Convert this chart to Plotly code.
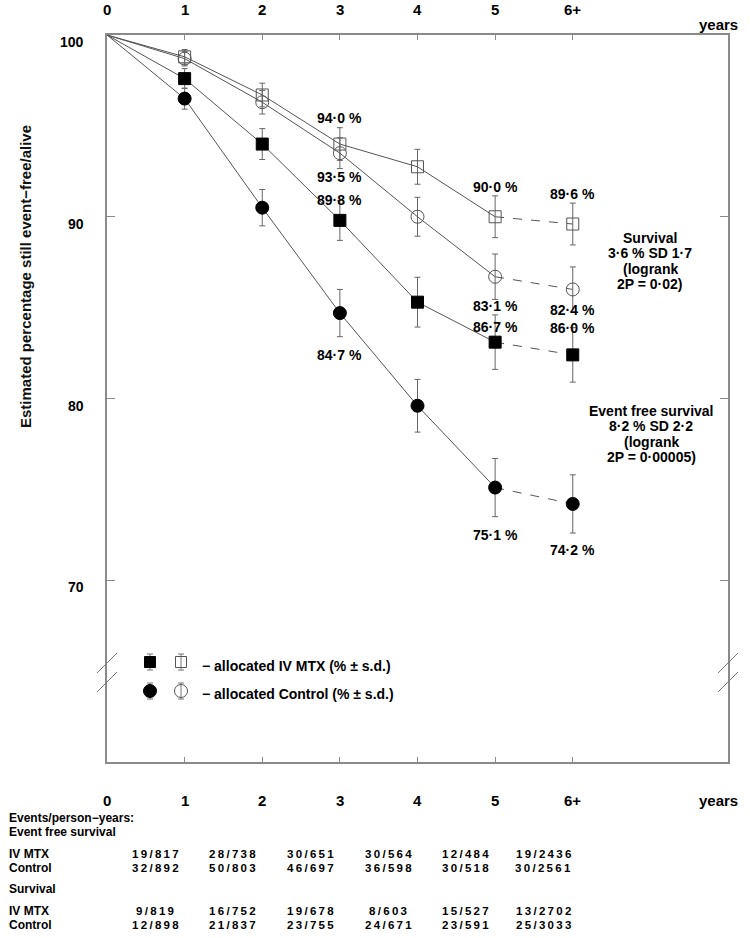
import plotly.graph_objects as go

# ---------------- data ----------------
years = [1, 2, 3, 4, 5, 6]
x_tick_labels = ["0", "1", "2", "3", "4", "5", "6+"]
y_tick_values = [100, 90, 80, 70]

mtx_surv = [98.8, 96.7, 94.0, 92.75, 90.0, 89.6]       # open square
mtx_surv_sd = [0.4, 0.65, 0.9, 0.96, 1.15, 1.15]
ctl_surv = [98.7, 96.3, 93.5, 90.0, 86.7, 86.0]        # open circle
ctl_surv_sd = [0.4, 0.65, 0.85, 1.07, 1.25, 1.24]
mtx_efs = [97.6, 94.0, 89.8, 85.3, 83.1, 82.4]         # filled square
mtx_efs_sd = [0.55, 0.85, 1.1, 1.37, 1.5, 1.5]
ctl_efs = [96.5, 90.5, 84.7, 79.6, 75.1, 74.2]         # filled circle
ctl_efs_sd = [0.58, 1.0, 1.3, 1.45, 1.6, 1.6]

efs_mtx_events = ["19/817", "28/738", "30/651", "30/564", "12/484", "19/2436"]
efs_ctl_events = ["32/892", "50/803", "46/697", "36/598", "30/518", "30/2561"]
surv_mtx_events = ["9/819", "16/752", "19/678", "8/603", "15/527", "13/2702"]
surv_ctl_events = ["12/898", "21/837", "23/755", "24/671", "23/591", "25/3033"]

survival_note = ["Survival", "3·6 % SD 1·7", "(logrank", "2P = 0·02)"]
efs_note = ["Event free survival", "8·2 % SD 2·2", "(logrank", "2P = 0·00005)"]

# ---------------- layout helpers ----------------
W, H = 750, 938
L, R, T, B = 107, 728, 35, 762


def py(p):
    return (B - p) / (B - T)


def px(p):
    return (p - L) / (R - L)


FONT = "Liberation Sans, Arial, sans-serif"
NARROW = "Liberation Sans Narrow, Arial Narrow, Liberation Sans, Arial, sans-serif"
LINE_C = "#555555"
AX_C = "#8a8a8a"

fig = go.Figure()

series = [
    (mtx_surv, mtx_surv_sd, "square-open", 12, "#555555"),
    (ctl_surv, ctl_surv_sd, "circle-open", 13, "#555555"),
    (mtx_efs, mtx_efs_sd, "square", 12, "black"),
    (ctl_efs, ctl_efs_sd, "circle", 13, "black"),
]

for vals, sd, sym, size, col in series:
    fig.add_trace(go.Scatter(x=[0] + years[:5], y=[100] + vals[:5], mode="lines",
                             line=dict(color=LINE_C, width=1), showlegend=False,
                             hoverinfo="skip"))
    fig.add_trace(go.Scatter(x=years[4:], y=vals[4:], mode="lines",
                             line=dict(color=LINE_C, width=1, dash="dash"),
                             showlegend=False, hoverinfo="skip"))
for vals, sd, sym, size, col in series:
    fig.add_trace(go.Scatter(x=years, y=vals, mode="markers",
                             marker=dict(symbol=sym, size=size, color=col,
                                         line=dict(color=col, width=1)),
                             error_y=dict(type="data", array=sd, color="#666666",
                                          thickness=1, width=3),
                             showlegend=False))

# legend glyphs on an overlay axis in plot-fraction units
leg = [
    (px(150), py(662), "square", 11, "black"),
    (px(181), py(662), "square-open", 11, "#555555"),
    (px(150), py(691), "circle", 13, "black"),
    (px(181), py(691), "circle-open", 13, "#555555"),
]
for lx, ly, sym, size, col in leg:
    fig.add_trace(go.Scatter(x=[lx], y=[ly], xaxis="x2", yaxis="y2", mode="markers",
                             marker=dict(symbol=sym, size=size, color=col,
                                         line=dict(color=col, width=1)),
                             error_y=dict(type="constant", value=8 / (B - T),
                                          color="#777777", thickness=1, width=3),
                             showlegend=False, hoverinfo="skip"))

ann = []
bold = dict(family=FONT, size=14, color="black")

# data labels: (values, index, text, yshift)
labels = [
    (mtx_surv, 2, "94·0 %", 26),
    (ctl_surv, 2, "93·5 %", -24),
    (mtx_efs, 2, "89·8 %", 20),
    (ctl_efs, 2, "84·7 %", -42),
    (mtx_surv, 4, "90·0 %", 30),
    (mtx_surv, 5, "89·6 %", 30),
    (mtx_efs, 4, "83·1 %", 36),
    (ctl_surv, 4, "86·7 %", -50),
    (mtx_efs, 5, "82·4 %", 45),
    (ctl_surv, 5, "86·0 %", -39),
    (ctl_efs, 4, "75·1 %", -47),
    (ctl_efs, 5, "74·2 %", -46),
]
for vals, i, txt, ys in labels:
    ann.append(dict(x=years[i], y=vals[i], xref="x", yref="y", text="<b>%s</b>" % txt,
                    showarrow=False, yshift=ys, font=bold,
                    xanchor="center", yanchor="middle"))

for k, line in enumerate(survival_note):
    ann.append(dict(x=px(650), y=py(238 + 15.3 * k), xref="paper", yref="paper",
                    text="<b>%s</b>" % line, showarrow=False, font=bold,
                    xanchor="center", yanchor="middle"))
for k, line in enumerate(efs_note):
    ann.append(dict(x=px(651), y=py(411 + 15.3 * k), xref="paper", yref="paper",
                    text="<b>%s</b>" % line, showarrow=False, font=bold,
                    xanchor="center", yanchor="middle"))

# y tick labels
for v in y_tick_values:
    ann.append(dict(x=0, y=v, xref="paper", yref="y", text="<b>%d</b>" % v,
                    showarrow=False, xanchor="right", yanchor="middle",
                    xshift=-21, yshift=-7, font=bold))

# y title
ann.append(dict(x=px(25), y=py(277), xref="paper", yref="paper",
                text="<b>Estimated percentage still event\u2212free/alive</b>",
                textangle=-90, showarrow=False, xanchor="center", yanchor="middle",
                font=dict(family=FONT, size=15, color="#111111")))

# top & bottom x labels
for i, t in enumerate(x_tick_labels):
    ann.append(dict(x=i, y=py(10), xref="x", yref="paper", text="<b>%s</b>" % t,
                    showarrow=False, xanchor="center", yanchor="middle",
                    font=dict(family=NARROW, size=15, color="black")))
    ann.append(dict(x=i, y=py(800), xref="x", yref="paper", text="<b>%s</b>" % t,
                    showarrow=False, xanchor="center", yanchor="middle",
                    font=dict(family=NARROW, size=15, color="black")))
ann.append(dict(x=px(718), y=py(24), xref="paper", yref="paper", text="<b>years</b>",
                showarrow=False, xanchor="center", yanchor="middle",
                font=dict(family=NARROW, size=15, color="black")))
ann.append(dict(x=px(718), y=py(800), xref="paper", yref="paper", text="<b>years</b>",
                showarrow=False, xanchor="center", yanchor="middle",
                font=dict(family=NARROW, size=15, color="black")))

# legend texts
leg_font = dict(family=FONT, size=14, color="black")
ann.append(dict(x=px(200), y=py(666), xref="paper", yref="paper",
                text="<b>\u2212 allocated IV MTX (% ± s.d.)</b>", showarrow=False,
                xanchor="left", yanchor="middle", font=leg_font))
ann.append(dict(x=px(200), y=py(694), xref="paper", yref="paper",
                text="<b>\u2212 allocated Control (% ± s.d.)</b>", showarrow=False,
                xanchor="left", yanchor="middle", font=leg_font))

# table
tfont = dict(family=NARROW, size=12, color="black")
row_titles = [
    ("Events/person\u2212years:", 818),
    ("Event free survival", 832),
    ("IV MTX", 854),
    ("Control", 868),
    ("Survival", 889),
    ("IV MTX", 911),
    ("Control", 925),
]
for txt, p in row_titles:
    ann.append(dict(x=px(7), y=py(p), xref="paper", yref="paper", text="<b>%s</b>" % txt,
                    showarrow=False, xanchor="left", yanchor="middle", font=tfont))
num_font = dict(family=FONT, size=11.5, color="black")
for row, p in [(efs_mtx_events, 854), (efs_ctl_events, 868),
               (surv_mtx_events, 911), (surv_ctl_events, 925)]:
    for i, txt in enumerate(row):
        spaced = "\u2009".join(txt)
        ann.append(dict(x=i + 0.62, y=py(p), xref="x", yref="paper",
                        text="<b>%s</b>" % spaced, showarrow=False,
                        xanchor="center", yanchor="middle", font=num_font))

# axis break marks
shapes = []
for xc in (0.0, 1.0):
    for (y0, y1) in ((673, 653), (692, 672)):
        shapes.append(dict(type="line", xref="paper", yref="paper",
                           x0=xc - 10 / (R - L), x1=xc + 10 / (R - L),
                           y0=py(y0), y1=py(y1),
                           line=dict(color="#777777", width=1)))

fig.update_layout(
    width=W, height=H,
    margin=dict(l=L, r=W - R, t=T, b=H - B, pad=0),
    paper_bgcolor="white", plot_bgcolor="white",
    showlegend=False,
    annotations=ann, shapes=shapes,
    xaxis=dict(range=[0, 8], showgrid=False, zeroline=False, showline=True,
               linecolor=AX_C, linewidth=1.5, mirror="ticks", ticks="inside",
               tickvals=years, ticklen=5, tickcolor=AX_C, tickwidth=1,
               showticklabels=False, fixedrange=True),
    yaxis=dict(range=[60, 100], showgrid=False, zeroline=False, showline=True,
               linecolor=AX_C, linewidth=1.5, mirror="ticks", ticks="inside",
               tickvals=[70, 80, 90], ticklen=8, tickcolor=AX_C, tickwidth=1,
               showticklabels=False, fixedrange=True),
    xaxis2=dict(range=[0, 1], overlaying="x", visible=False, fixedrange=True),
    yaxis2=dict(range=[0, 1], overlaying="y", visible=False, fixedrange=True),
)

fig.write_html("out.html", config={"displayModeBar": False},
               post_script="document.body.style.margin='0';document.body.style.overflow='hidden';")
